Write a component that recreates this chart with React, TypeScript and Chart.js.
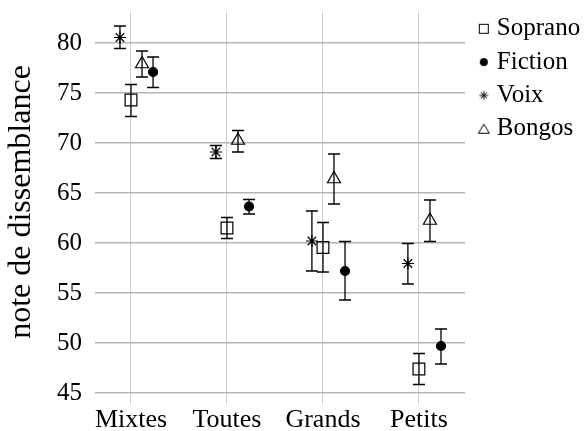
import React, { useEffect, useRef } from "react";
import { Chart, registerables } from "chart.js";

Chart.register(...registerables);

// ---- data ----
const categories = ["Mixtes", "Toutes", "Grands", "Petits"];
const yTicks = [45, 50, 55, 60, 65, 70, 75, 80];
const seriesNames = ["Soprano", "Fiction", "Voix", "Bongos"];

const sopranoMean = [74.3, 61.5, 59.55, 47.4];
const sopranoLow = [72.65, 60.45, 57.1, 45.85];
const sopranoHigh = [75.85, 62.55, 62.05, 48.95];

const fictionMean = [77.1, 63.65, 57.2, 49.7];
const fictionLow = [75.55, 62.9, 54.3, 47.9];
const fictionHigh = [78.6, 64.35, 60.15, 51.4];

const voixMean = [80.55, 69.1, 60.2, 57.95];
const voixLow = [79.45, 68.45, 57.2, 55.9];
const voixHigh = [81.7, 69.75, 63.2, 59.95];

const bongosMean = [77.9, 70.25, 66.4, 62.25];
const bongosLow = [76.6, 69.1, 63.9, 60.15];
const bongosHigh = [79.2, 71.25, 68.9, 64.3];

// ---- layout / style ----
const W = 586;
const H = 431;
const FONT = "'Liberation Serif', 'Times New Roman', serif";
const seriesOffset = [0, 0.23, -0.115, 0.115];
const means = [sopranoMean, fictionMean, voixMean, bongosMean];
const lows = [sopranoLow, fictionLow, voixLow, bongosLow];
const highs = [sopranoHigh, fictionHigh, voixHigh, bongosHigh];
const pointStyles = ["rect", "circle", "star", "triangle"];
const pointRadii = [8.3, 4.5, 6, 7.5];
const pointFills = ["rgba(0,0,0,0)", "#000", "rgba(0,0,0,0)", "rgba(0,0,0,0)"];

function makeIcon(kind: string): HTMLCanvasElement {
  const c = document.createElement("canvas");
  c.width = 14;
  c.height = 14;
  const g = c.getContext("2d")!;
  g.strokeStyle = "#000";
  g.fillStyle = "#000";
  g.lineWidth = 1;
  if (kind === "rect") {
    g.strokeRect(2.5, 2.5, 9, 9);
  } else if (kind === "circle") {
    g.beginPath();
    g.arc(7, 7, 4, 0, Math.PI * 2);
    g.fill();
  } else if (kind === "star") {
    const r = 4.5;
    g.beginPath();
    for (let k = 0; k < 4; k++) {
      const a = (k * Math.PI) / 4;
      g.moveTo(7 - Math.cos(a) * r, 7 - Math.sin(a) * r);
      g.lineTo(7 + Math.cos(a) * r, 7 + Math.sin(a) * r);
    }
    g.stroke();
  } else {
    g.beginPath();
    g.moveTo(7, 2.5);
    g.lineTo(12.5, 11.5);
    g.lineTo(1.5, 11.5);
    g.closePath();
    g.stroke();
  }
  return c;
}

const errorBarPlugin = {
  id: "errorBars",
  afterDatasetsDraw(chart: any) {
    const ctx = chart.ctx;
    const xs = chart.scales.x;
    const ys = chart.scales.y;
    ctx.save();
    ctx.strokeStyle = "#000";
    ctx.lineWidth = 1.3;
    means.forEach((arr, s) => {
      arr.forEach((_, i) => {
        const x = xs.getPixelForValue(i + seriesOffset[s]);
        const yl = ys.getPixelForValue(lows[s][i]);
        const yh = ys.getPixelForValue(highs[s][i]);
        ctx.beginPath();
        ctx.moveTo(x, yl);
        ctx.lineTo(x, yh);
        ctx.moveTo(x - 6, yl);
        ctx.lineTo(x + 6, yl);
        ctx.moveTo(x - 6, yh);
        ctx.lineTo(x + 6, yh);
        ctx.stroke();
      });
    });
    ctx.restore();
  },
};

const legendPlace = {
  id: "legendPlace",
  afterLayout(chart: any) {
    const l = chart.legend;
    if (!l) return;
    const w = l.width;
    const h = l.height;
    l.left = 475;
    l.right = 475 + w;
    l.top = 8;
    l.bottom = 8 + h;
  },
};

export default function App() {
  const ref = useRef<HTMLCanvasElement | null>(null);

  useEffect(() => {
    if (!ref.current) return;
    const icons = pointStyles.map((p) => makeIcon(p));
    const datasets = seriesNames.map((name, s) => ({
      label: name,
      data: means[s].map((v, i) => ({ x: i + seriesOffset[s], y: v })),
      pointStyle: pointStyles[s],
      pointRadius: pointRadii[s],
      pointHoverRadius: pointRadii[s],
      pointBorderWidth: 1.2,
      borderColor: "#000",
      backgroundColor: pointFills[s],
      showLine: false,
    }));

    const chart = new Chart(ref.current, {
      type: "scatter",
      data: { datasets },
      plugins: [errorBarPlugin, legendPlace],
      options: {
        responsive: false,
        animation: false,
        events: [],
        layout: { padding: { top: 11, right: 0, bottom: 0, left: 0 } },
        plugins: {
          tooltip: { enabled: false },
          legend: {
            display: true,
            position: "right",
            align: "start",
            labels: {
              usePointStyle: true,
              boxWidth: 1,
              boxHeight: 8,
              padding: 8.3,
              color: "#000",
              font: { family: FONT, size: 25 },
              generateLabels: (ch: any) =>
                Chart.defaults.plugins.legend.labels
                  .generateLabels(ch)
                  .map((it: any, i: number) => ({ ...it, pointStyle: icons[i] })),
            },
          },
        },
        scales: {
          x: {
            type: "linear",
            min: -0.375,
            max: 3.48,
            afterFit: (scale: any) => {
              scale.height = H - 393;
              scale.paddingLeft = 0;
              scale.paddingRight = 0;
            },
            afterBuildTicks: (scale: any) => {
              scale.ticks = categories.map((_, i) => ({ value: i }));
            },
            border: { display: false },
            grid: {
              color: "#cfcfcf",
              lineWidth: 1,
              drawTicks: true,
              tickLength: 12,
              tickColor: "#cfcfcf",
            },
            ticks: {
              padding: 0,
              color: "#000",
              font: { family: FONT, size: 26 },
              maxRotation: 0,
              autoSkip: false,
              callback: (v: any) => categories[Math.round(Number(v))] ?? "",
            },
          },
          y: {
            type: "linear",
            min: 45,
            max: 83.2,
            afterFit: (scale: any) => {
              scale.width = 95;
              scale.paddingTop = 0;
              scale.paddingBottom = 0;
            },
            afterBuildTicks: (scale: any) => {
              scale.ticks = yTicks.map((v) => ({ value: v }));
            },
            border: { display: false },
            grid: {
              color: "#b4b4b4",
              lineWidth: 1.6,
              drawTicks: false,
            },
            ticks: {
              padding: 13,
              color: "#000",
              font: { family: FONT, size: 25 },
              callback: (v: any) => String(v),
            },
            title: {
              display: true,
              text: "note de dissemblance",
              color: "#000",
              font: { family: FONT, size: 32 },
              padding: { top: 2, bottom: 0 },
            },
          },
        },
      },
    } as any);

    const extra = 121 - chart.legend!.width;
    if (extra > 0) {
      (chart.options as any).layout.padding.right = extra;
      chart.update();
    }

    return () => chart.destroy();
  }, []);

  return (
    <div style={{ position: "absolute", left: 0, top: 0, width: W, height: H, background: "#fff" }}>
      <canvas ref={ref} width={W} height={H} style={{ display: "block" }} />
    </div>
  );
}
